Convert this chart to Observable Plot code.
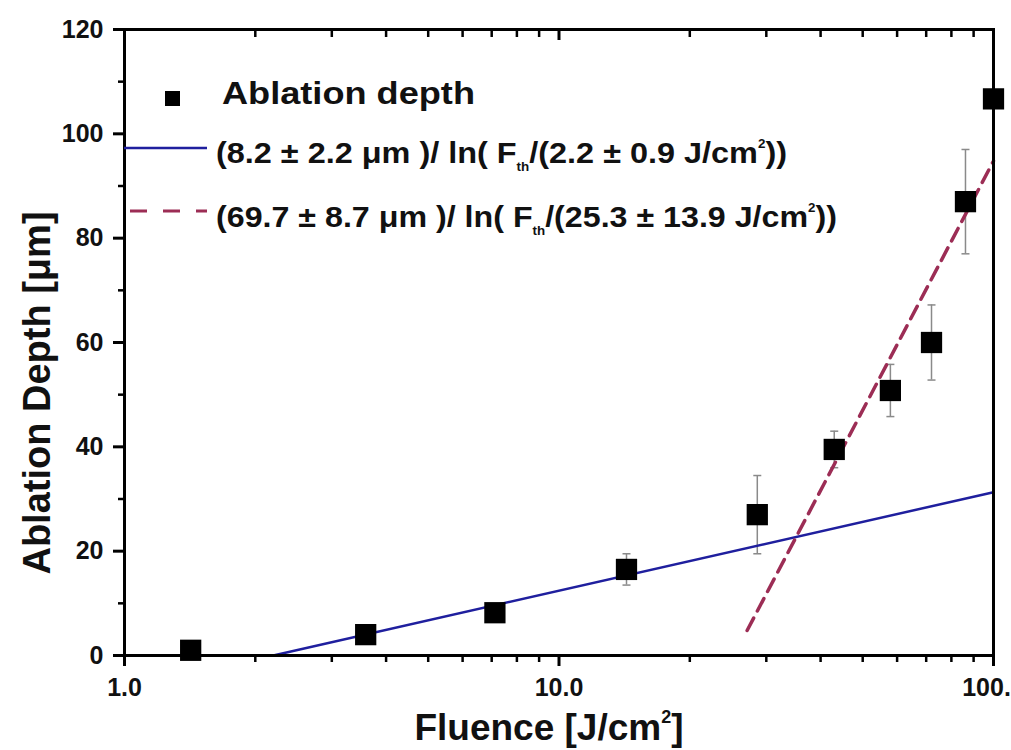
<!DOCTYPE html>
<html><head><meta charset="utf-8">
<script src="https://cdn.jsdelivr.net/npm/d3@7"></script>
<script src="https://cdn.jsdelivr.net/npm/@observablehq/plot@0.6"></script>
<style>
body{margin:0;background:#fff;}
#chart{position:relative;width:1011px;height:750px;overflow:hidden;}
svg{font-family:"Liberation Sans",Arial,sans-serif;}
</style></head><body><div id="chart"></div>
<script>
// Measured data
const fluence  = [1.42, 3.59, 7.12, 14.3, 28.6, 43.0, 57.9, 72.0, 86.2, 100];
const depth    = [1.0, 4.0, 8.2, 16.5, 27.0, 39.5, 50.8, 60.0, 87.0, 106.7];
const depthErr = [0.0, 1.0, 1.0, 3.0, 7.5, 3.5, 5.0, 7.2, 10.0, 0.0];
// Fit lines (straight on log-x axis), endpoints
const fitBlueX = [2.2, 100];
const fitBlueY = [0, 31.3];
const fitRedX  = [27.1, 100];
const fitRedY  = [4.8, 94.8];
// Ticks
const xMajor = [1, 10, 100];
const xMinor = [2,3,4,5,6,7,8,9,20,30,40,50,60,70,80,90];
const yMajor = [0, 20, 40, 60, 80, 100, 120];
const yMinor = [10, 30, 50, 70, 90, 110];

const points = fluence.map((f, i) => ({f, d: depth[i], e: depthErr[i]}));
const bars = points.filter(p => p.e > 0);
const blue = fitBlueX.map((x, i) => ({x, y: fitBlueY[i]}));
const red = fitRedX.map((x, i) => ({x, y: fitRedY[i]}));
const capSymbol = {draw(ctx, size) { const w = Math.sqrt(size / Math.PI); ctx.moveTo(-w, 0); ctx.lineTo(w, 0); }};

const BLUE = "#1f1f9e", RED = "#9c2d55";
const fontBase = {fontSize: 25, fontWeight: "bold", fill: "#111"};

const chart = Plot.plot({
  width: 1011, height: 750,
  marginLeft: 124, marginRight: 18, marginTop: 29, marginBottom: 95,
  style: {fontFamily: '"Liberation Sans", Arial, sans-serif', background: "#fff", overflow: "visible"},
  x: {type: "log", domain: [1, 100]},
  y: {domain: [0, 120]},
  marks: [
    Plot.ruleX(bars, {x: "f", y1: p => p.d - p.e, y2: p => p.d + p.e, stroke: "#8a8a8a", strokeWidth: 1.5}),
    Plot.dot(bars, {x: "f", y: p => p.d + p.e, symbol: capSymbol, r: 4, stroke: "#8a8a8a", strokeWidth: 1.5, fill: "none"}),
    Plot.dot(bars, {x: "f", y: p => p.d - p.e, symbol: capSymbol, r: 4, stroke: "#8a8a8a", strokeWidth: 1.5, fill: "none"}),
    Plot.line(blue, {x: "x", y: "y", stroke: BLUE, strokeWidth: 2.5}),
    Plot.line(red, {x: "x", y: "y", stroke: RED, strokeWidth: 3.5, strokeDasharray: "14,8"}),
    Plot.dot(points, {x: "f", y: "d", symbol: "square", r: 12, fill: "#000", stroke: "none"}),
    Plot.frame({stroke: "#000", strokeWidth: 3}),
    Plot.axisX(xMajor, {anchor: "bottom", tickSize: 11, tickPadding: 12, tickFormat: d => d.toFixed(1), strokeWidth: 3, stroke: "#000", label: null, ...fontBase}),
    Plot.axisX(xMinor, {anchor: "bottom", tickSize: 7, tickFormat: () => "", strokeWidth: 2.5, stroke: "#000", label: null}),
    Plot.axisX([10], {anchor: "top", tickSize: -10, tickFormat: () => "", strokeWidth: 3, stroke: "#000", label: null}),
    Plot.axisX(xMinor, {anchor: "top", tickSize: -7, tickFormat: () => "", strokeWidth: 2.5, stroke: "#000", label: null}),
    Plot.axisY(yMajor, {anchor: "left", tickSize: 11, tickPadding: 10, strokeWidth: 3, stroke: "#000", label: null, ...fontBase}),
    Plot.axisY(yMinor, {anchor: "left", tickSize: 6, tickFormat: () => "", strokeWidth: 2.5, stroke: "#000", label: null})
  ]
});
document.getElementById("chart").appendChild(chart);

const svg = d3.select(chart);
// Axis titles
const xt = svg.append("text").attr("x", 549).attr("y", 740).attr("text-anchor", "middle")
  .attr("font-size", 37).attr("font-weight", "bold").attr("fill", "#111");
xt.append("tspan").text("Fluence [J/cm");
xt.append("tspan").attr("font-size", 18).attr("dy", -17).text("2");
xt.append("tspan").attr("dy", 17).text("]");

svg.append("text").attr("transform", "translate(50,393) rotate(-90)").attr("text-anchor", "middle")
  .attr("font-size", 38).attr("font-weight", "bold").attr("fill", "#111").text("Ablation Depth [\u03bcm]");

// Legend
const lg = svg.append("g").attr("text-anchor", "start");
lg.append("rect").attr("x", 165).attr("y", 91).attr("width", 15).attr("height", 15).attr("fill", "#000");
lg.append("text").attr("x", 222).attr("y", 104).attr("text-anchor", "start").attr("font-size", 31).attr("font-weight", "bold").attr("fill", "#111")
  .attr("textLength", 253).attr("lengthAdjust", "spacingAndGlyphs").text("Ablation depth");
lg.append("line").attr("x1", 124).attr("x2", 207).attr("y1", 148).attr("y2", 148).attr("stroke", BLUE).attr("stroke-width", 2.5);
lg.append("line").attr("x1", 130).attr("x2", 207).attr("y1", 211).attr("y2", 211).attr("stroke", RED).attr("stroke-width", 3).attr("stroke-dasharray", "17,16");

function formula(y, a, b, len) {
  const t = lg.append("text").attr("x", 216).attr("y", y).attr("text-anchor", "start").attr("font-size", 29).attr("font-weight", "bold").attr("fill", "#111")
    .attr("textLength", len).attr("lengthAdjust", "spacingAndGlyphs");
  t.append("tspan").text(a + " )/ ln( F");
  t.append("tspan").attr("font-size", 12).attr("dy", 8).text("th");
  t.append("tspan").attr("dy", -8).text("/(" + b + " J/cm");
  t.append("tspan").attr("font-size", 12).attr("dy", -15).text("2");
  t.append("tspan").attr("dy", 15).text("))");
}
formula(163, "(8.2 \u00b1 2.2 \u03bcm", "2.2 \u00b1 0.9", 571);
formula(227, "(69.7 \u00b1 8.7 \u03bcm", "25.3 \u00b1 13.9", 621);
</script>
</body></html>
